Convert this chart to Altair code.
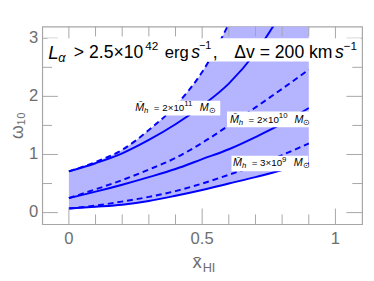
import altair as alt
import pandas as pd

# ---- data ----
x_vals = [0.0, 0.1, 0.2, 0.3, 0.4, 0.5, 0.6, 0.7, 0.8, 0.9]
m3e9_solid = [0.07, 0.10, 0.135, 0.20, 0.29, 0.39, 0.50, 0.61, 0.73, 0.85]
m3e9_dashed = [0.07, 0.12, 0.19, 0.27, 0.37, 0.50, 0.65, 0.81, 0.99, 1.19]
m2e10_solid = [0.25, 0.36, 0.48, 0.61, 0.75, 0.92, 1.09, 1.30, 1.53, 1.80]
m2e10_dashed = [0.25, 0.40, 0.56, 0.74, 0.94, 1.20, 1.50, 1.81, 2.13, 2.46]
m2e11_solid = [0.71, 0.85, 1.02, 1.25, 1.52, 1.84, 2.22, 2.75, 3.45, 4.20]
m2e11_dashed = [0.71, 0.87, 1.08, 1.42, 1.84, 2.42, 3.25, 4.30, 5.40, 6.60]

label_coef = ["2", "2", "3"]
label_exp = ["11", "10", "9"]
label_x = [0.249, 0.604, 0.616]
label_y = [1.80, 1.596, 0.845]
box_x1 = [0.242, 0.593, 0.610]
box_x2 = [0.568, 0.905, 0.897]
box_y1 = [1.672, 1.47, 0.71]
box_y2 = [1.926, 1.74, 0.98]

title_box_x = [-0.08, 1.095]
title_box_y = [2.6, 3.0]
title_x, title_y = -0.077, 2.736

x_major = [0.0, 0.5, 1.0]
x_major_text = ["0", "0.5", "1"]
x_minor = [0.1, 0.2, 0.3, 0.4, 0.6, 0.7, 0.8, 0.9]
y_major = [0, 1, 2, 3]
y_major_text = ["0", "1", "2", "3"]
y_minor = [0.5, 1.5, 2.5]

# ---- styling ----
W, H = 327, 202
FRAME = "#a6a6a6"
LABEL = "#6e6e6e"
BLUE = "#0000ff"
FILL = "#b4b4ff"
FONT = "Liberation Sans"
MAJ, MIN = 16, 10

xs = alt.Scale(domain=[-0.1, 1.1], nice=False, zero=False)
ys = alt.Scale(domain=[-0.2, 3.2], nice=False, zero=False)


def X(f):
    return alt.X(f, scale=xs, axis=None)


def Y(f):
    return alt.Y(f, scale=ys, axis=None)


band = pd.DataFrame({"x": x_vals, "lo": m3e9_solid, "hi": m2e11_dashed})

rows = []
for name, ser, kind in [("3e9", m3e9_solid, "solid"), ("3e9", m3e9_dashed, "dashed"),
                        ("2e10", m2e10_solid, "solid"), ("2e10", m2e10_dashed, "dashed"),
                        ("2e11", m2e11_solid, "solid"), ("2e11", m2e11_dashed, "dashed")]:
    for xv, yv in zip(x_vals, ser):
        rows.append({"x": xv, "y": yv, "series": name + kind, "kind": kind})
lines = pd.DataFrame(rows)

area = alt.Chart(band).mark_area(color=FILL, opacity=1, clip=True, interpolate="monotone").encode(
    x=X("x:Q"), y=Y("lo:Q"), y2="hi:Q")

solid = alt.Chart(lines[lines.kind == "solid"]).mark_line(
    color=BLUE, strokeWidth=2, clip=True, interpolate="monotone").encode(
    x=X("x:Q"), y=Y("y:Q"), detail="series:N")

dashed = alt.Chart(lines[lines.kind == "dashed"]).mark_line(
    color=BLUE, strokeWidth=2, strokeDash=[6, 4], clip=True, interpolate="monotone").encode(
    x=X("x:Q"), y=Y("y:Q"), detail="series:N")

# frame ticks (pointing inwards on all four sides)
tick_layers = []
for vals, L in [(x_major, MAJ), (x_minor, MIN)]:
    df = pd.DataFrame({"t": vals})
    for y0, y1 in [(H, H - L), (0, L)]:
        tick_layers.append(alt.Chart(df).mark_rule(color=FRAME, strokeWidth=1).encode(
            x=X("t:Q"), y=alt.value(y0), y2=alt.value(y1)))
for vals, L in [(y_major, MAJ), (y_minor, MIN)]:
    df = pd.DataFrame({"t": vals})
    for x0, x1 in [(0, L), (W, W - L)]:
        tick_layers.append(alt.Chart(df).mark_rule(color=FRAME, strokeWidth=1).encode(
            y=Y("t:Q"), x=alt.value(x0), x2=alt.value(x1)))

# tick labels
xlab = alt.Chart(pd.DataFrame({"v": x_major, "t": x_major_text})).mark_text(
    font=FONT, fontSize=17, color=LABEL, align="center", baseline="middle").encode(
    x=X("v:Q"), y=alt.value(H + 15), text="t:N")
ylab = alt.Chart(pd.DataFrame({"v": y_major, "t": y_major_text})).mark_text(
    font=FONT, fontSize=17, color=LABEL, align="right", baseline="middle").encode(
    y=Y("v:Q"), x=alt.value(-4), text="t:N")

# axis titles
ytitle = alt.Chart(pd.DataFrame({"t": ["\u03c9\u2081\u2080"]})).mark_text(
    font=FONT, fontSize=18, color=LABEL, angle=270, align="center", baseline="middle").encode(
    x=alt.value(-25), y=alt.value(H / 2), text="t:N")
xtitle = [
    alt.Chart(pd.DataFrame({"t": ["x\u0304"]})).mark_text(
        font=FONT, fontSize=19, color=LABEL, align="right", baseline="middle").encode(
        x=alt.value(163), y=alt.value(H + 39), text="t:N"),
    alt.Chart(pd.DataFrame({"t": ["HI"]})).mark_text(
        font=FONT, fontSize=13, color=LABEL, align="left", baseline="middle").encode(
        x=alt.value(164), y=alt.value(H + 45), text="t:N"),
]

# white boxes behind the annotations
boxes = pd.DataFrame({"x1": box_x1 + [title_box_x[0]], "x2": box_x2 + [title_box_x[1]],
                      "y1": box_y1 + [title_box_y[0]], "y2": box_y2 + [title_box_y[1]]})
box_layer = alt.Chart(boxes).mark_rect(color="white").encode(
    x=X("x1:Q"), x2="x2:Q", y=Y("y1:Q"), y2="y2:Q")


def piece(xv, yv, txt, dx, size, dy=0, style="normal"):
    return alt.Chart(pd.DataFrame({"x": [xv], "y": [yv], "t": [txt]})).mark_text(
        font=FONT, fontSize=size, fontStyle=style, dx=dx, dy=dy, color="black",
        align="left", baseline="middle").encode(x=X("x:Q"), y=Y("y:Q"), text="t:N")


label_layers = []
for xv, yv, c, e in zip(label_x, label_y, label_coef, label_exp):
    shift = 0 if len(e) == 2 else -4
    label_layers += [
        piece(xv, yv, "M\u0304", 0, 11, 0, "italic"),
        piece(xv, yv, "h", 9, 8, 3, "italic"),
        piece(xv, yv, "= " + c + "\u00d710", 19, 10),
        piece(xv, yv, e, 50, 8, -4),
        piece(xv, yv, "M", 66 + shift, 11, 0, "italic"),
        piece(xv, yv, "\u2299", 75 + shift, 8, 3),
    ]

title_layers = [
    piece(title_x, title_y, "L", 0, 19, 0, "italic"),
    piece(title_x, title_y, "\u03b1", 10, 13, 5, "italic"),
    piece(title_x, title_y, "> 2.5\u00d710", 26, 18),
    piece(title_x, title_y, "42", 99, 12, -8),
    piece(title_x, title_y, "erg", 119, 17),
    piece(title_x, title_y, "s", 146, 18, 0, "italic"),
    piece(title_x, title_y, "\u22121", 154, 11, -8),
    piece(title_x, title_y, ",", 168, 18),
    piece(title_x, title_y, "\u0394v = 200 km", 190, 18),
    piece(title_x, title_y, "s", 293, 18, 0, "italic"),
    piece(title_x, title_y, "\u22121", 302, 12, -8),
]

chart = alt.layer(area, solid, dashed, *tick_layers, box_layer, *label_layers,
                  *title_layers, xlab, ylab, ytitle, *xtitle).properties(
    width=W, height=H,
    padding={"left": 35, "top": 16, "right": 4, "bottom": 55},
    autosize="none",
).configure_view(stroke=FRAME, strokeWidth=1.2)

chart.save("out.html", embed_options={"renderer": "svg", "actions": False})
